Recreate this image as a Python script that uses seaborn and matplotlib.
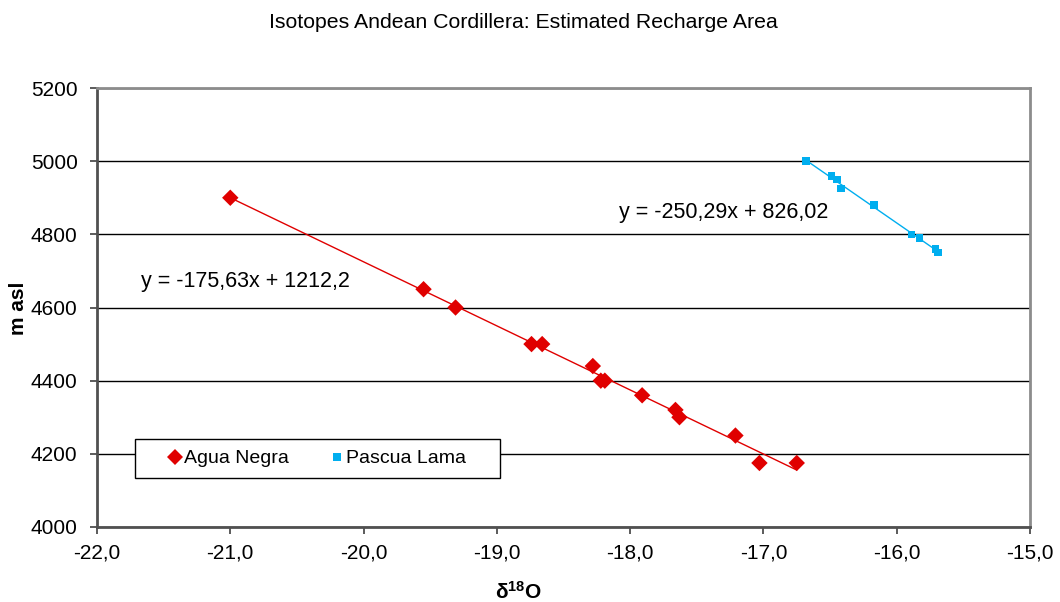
import numpy as np
import pandas as pd
import seaborn as sns
import matplotlib
matplotlib.use("Agg")
import matplotlib.pyplot as plt
from matplotlib.patches import Rectangle

# data
agua_d18o = [-21.00, -19.55, -19.31, -18.74, -18.66, -18.28, -18.22, -18.19,
             -17.91, -17.66, -17.63, -17.21, -17.03, -16.75]
agua_masl = [4900, 4650, 4600, 4500, 4500, 4440, 4400, 4400,
             4360, 4320, 4300, 4250, 4175, 4175]

pascua_d18o = [-16.68, -16.49, -16.45, -16.42, -16.17, -15.89, -15.83, -15.71, -15.69]
pascua_masl = [5000, 4960, 4950, 4925, 4880, 4800, 4790, 4760, 4750]

eq_agua = "y = -175,63x + 1212,2"
eq_pascua = "y = -250,29x + 826,02"
x_ticks = [-22, -21, -20, -19, -18, -17, -16, -15]
y_ticks = [4000, 4200, 4400, 4600, 4800, 5000, 5200]

RED = "#E00000"
BLUE = "#00AEEF"

df = pd.concat([
    pd.DataFrame({"d18O": agua_d18o, "masl": agua_masl, "site": "Agua Negra"}),
    pd.DataFrame({"d18O": pascua_d18o, "masl": pascua_masl, "site": "Pascua Lama"}),
])

sns.set_style("white")
plt.rcParams["font.family"] = ["Liberation Sans", "DejaVu Sans"]
plt.rcParams["text.color"] = "black"
plt.rcParams["xtick.labelcolor"] = "black"
plt.rcParams["ytick.labelcolor"] = "black"
plt.rcParams["mathtext.fontset"] = "custom"
plt.rcParams["mathtext.bf"] = "Liberation Sans:bold"
plt.rcParams["mathtext.rm"] = "Liberation Sans"
FS = 15

fig = plt.figure(figsize=(10.6, 6.02), dpi=100)
ax = fig.add_axes([97 / 1060, 1 - 527 / 602, 933 / 1060, 439 / 602])

# trend lines
sns.regplot(data=df[df.site == "Agua Negra"], x="d18O", y="masl", ax=ax,
            scatter=False, ci=None, truncate=True,
            line_kws={"color": RED, "lw": 1})
sns.regplot(data=df[df.site == "Pascua Lama"], x="d18O", y="masl", ax=ax,
            scatter=False, ci=None, truncate=True,
            line_kws={"color": BLUE, "lw": 1})

sns.scatterplot(data=df, x="d18O", y="masl", hue="site", style="site",
                palette={"Agua Negra": RED, "Pascua Lama": BLUE},
                markers={"Agua Negra": "D", "Pascua Lama": "s"},
                size="site", sizes={"Agua Negra": 70, "Pascua Lama": 30},
                linewidth=0, ax=ax, zorder=3)

ax.set_xlim(-22, -15)
ax.set_ylim(4000, 5200)
ax.set_xticks(x_ticks)
ax.set_yticks(y_ticks)
ax.set_xticklabels([f"{v:.1f}".replace(".", ",") for v in x_ticks], fontsize=FS)
ax.set_yticklabels([str(v) for v in y_ticks], fontsize=FS)
ax.yaxis.grid(True, color="black", lw=1)
ax.set_axisbelow(True)
ax.tick_params(axis="both", direction="out", length=5, width=1.2,
               color="#404040", left=True, bottom=True)
ax.tick_params(axis="y", pad=9)
ax.tick_params(axis="x", pad=7)
for s in ["left", "bottom"]:
    ax.spines[s].set_color("#505050")
    ax.spines[s].set_linewidth(2)
for s in ["top", "right"]:
    ax.spines[s].set_color("#8c8c8c")
    ax.spines[s].set_linewidth(2)
ax.set_xlabel("")
ax.set_ylabel("")

ax.text(-21.67, 4672, eq_agua, fontsize=FS + 0.5, va="center", ha="left")
ax.text(-18.08, 4861, eq_pascua, fontsize=FS + 0.5, va="center", ha="left")

# legend box drawn separately so its size matches the original
ax.add_patch(Rectangle((38 / 933, 49 / 439), 365 / 933, 39 / 439,
                       transform=ax.transAxes, facecolor="white",
                       edgecolor="black", lw=1, zorder=4))
handles, labels = ax.get_legend_handles_labels()
leg = ax.legend(handles, labels, ncol=2, loc="center",
                bbox_to_anchor=(220.5 / 933, 68.5 / 439),
                frameon=False, fontsize=14, handlelength=0.6,
                handletextpad=0.15, columnspacing=2.2, borderaxespad=0)
leg.set_zorder(5)

fig.text(523 / 1060, 1 - 23 / 602,
         "Isotopes Andean Cordillera: Estimated Recharge Area",
         fontsize=15.3, ha="center", va="center")
fig.text(18 / 1060, 1 - 308 / 602, "m asl", fontsize=FS, fontweight="bold",
         rotation=90, ha="center", va="center")
fig.text(519 / 1060, 1 - 592 / 602, r"$\mathbf{δ^{18}O}$", fontsize=FS,
         ha="center", va="center")

fig.savefig("out.png", dpi=100, facecolor="white")
